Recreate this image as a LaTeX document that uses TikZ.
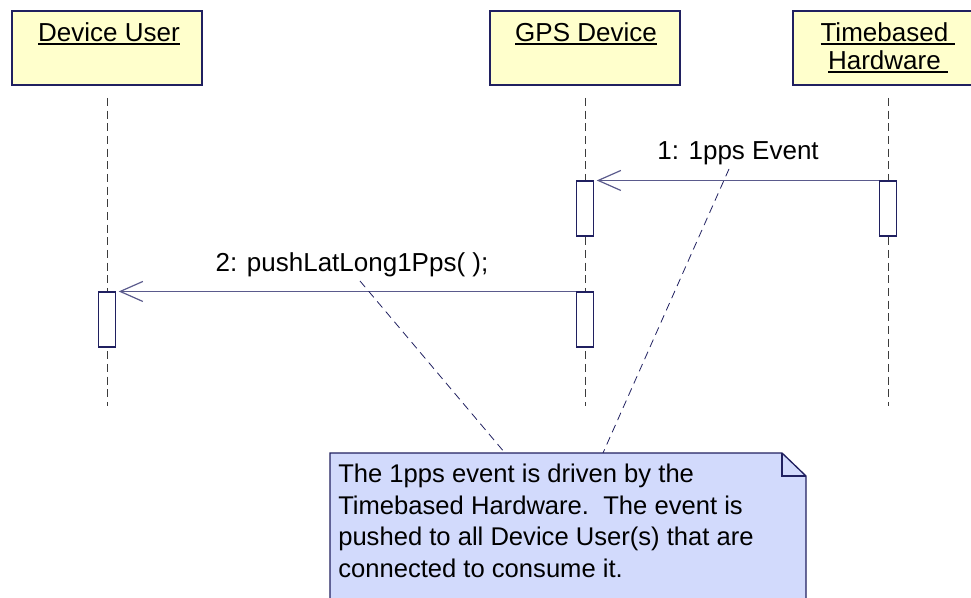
\documentclass[tikz,border=0pt]{standalone}
\usepackage{fontspec}
\setmainfont{Liberation Sans}
\usetikzlibrary{arrows.meta}
\definecolor{headfill}{RGB}{255,255,204}
\definecolor{navy}{RGB}{32,32,96}
\definecolor{lifegray}{RGB}{60,60,60}
\definecolor{msgcol}{RGB}{90,90,140}
\definecolor{notefill}{RGB}{210,218,252}
\newcommand\ulin[1]{\setbox0\hbox{#1}\rlap{\rule[-2.2pt]{\wd0}{1.1pt}}\box0}
\begin{document}
\begin{tikzpicture}[x=0.75pt,y=-0.75pt,
  headbox/.style={draw=navy, line width=1pt, fill=headfill, minimum width=142.5pt, minimum height=55.5pt, inner sep=0pt},
  title/.style={font=\fontsize{19.5}{21}\selectfont, inner sep=0pt, anchor=base, text=black},
  lifeline/.style={draw=lifegray, line width=0.75pt, dash pattern=on 6pt off 3.5pt},
  actbox/.style={draw=navy, fill=white, line width=0.8pt, minimum width=12.75pt, minimum height=41.25pt, inner sep=0pt},
  msg/.style={draw=msgcol, line width=0.9pt, -{Straight Barb[length=17pt,width=15pt]}},
  msglabel/.style={font=\fontsize{19.5}{23}\selectfont, inner sep=0pt, anchor=base},
  notelink/.style={draw=navy, line width=0.6pt, dash pattern=on 6pt off 4pt},
  notebox/.style={draw=navy, line width=1pt, fill=notefill},
  notetext/.style={font=\fontsize{19.2}{23.6}\selectfont, align=left, inner sep=0pt, anchor=north west}
]
\useasboundingbox (0,0) rectangle (971,598);
\clip (0,0) rectangle (971,598);

% lifeline heads
\node[headbox] (du) at (107,48) {};
\node[headbox] (gps) at (585,48) {};
\node[headbox] (tb) at (888,48) {};
\node[title] (duT) at (109,42) {\ulin{Device User}};
\node[title] (gpsT) at (586,42) {\ulin{GPS Device}};
\node[title] (tbT1) at (888,42) {\ulin{Timebased\ }};
\node[title] (tbT2) at (888,70) {\ulin{Hardware\ }};

% lifelines
\coordinate (du0) at (107,98);  \coordinate (du1) at (107,406);
\coordinate (gps0) at (585,98); \coordinate (gps1) at (585,406);
\coordinate (tb0) at (888,98);  \coordinate (tb1) at (888,406);
\draw[lifeline] (du0) -- (du1);
\draw[lifeline] (gps0) -- (gps1);
\draw[lifeline] (tb0) -- (tb1);

% activations
\node[actbox] (a1g) at (585,208.5) {};
\node[actbox] (a1t) at (888,208.5) {};
\node[actbox] (a2d) at (107,319.5) {};
\node[actbox] (a2g) at (585,319.5) {};

% messages
\draw[msg] (a1t.north west) -- ([xshift=2pt]a1g.north east);
\draw[msg] (a2g.north west) -- ([xshift=2pt]a2d.north east);
\node[msglabel] (l1) at (738,160) {1: 1pps Event};
\node[msglabel] (l2) at (352,272) {2: pushLatLong1Pps(\ );};

% note links
\coordinate (k1) at (729,169);
\coordinate (k2) at (360,281);
\coordinate (nt1) at (603,453);
\coordinate (nt2) at (505,453);
\draw[notelink] (k1) -- (nt1);
\draw[notelink] (k2) -- (nt2);

% note
\coordinate (nA) at (330,453);
\coordinate (nB) at (782,453);
\coordinate (nC) at (806,476);
\coordinate (nD) at (806,620);
\coordinate (nE) at (330,620);
\coordinate (nF) at (782,476);
\draw[notebox] (nA) -- (nB) -- (nC) -- (nD) -- (nE) -- cycle;
\draw[draw=navy, line width=1pt] (nB) -- (nF) -- (nC);
\node[notetext] (nt) at (338,464) {The 1pps event is driven by the\\Timebased Hardware.~\ The event is\\pushed to all Device User(s) that are\\connected to consume it.};
\end{tikzpicture}
\end{document}
